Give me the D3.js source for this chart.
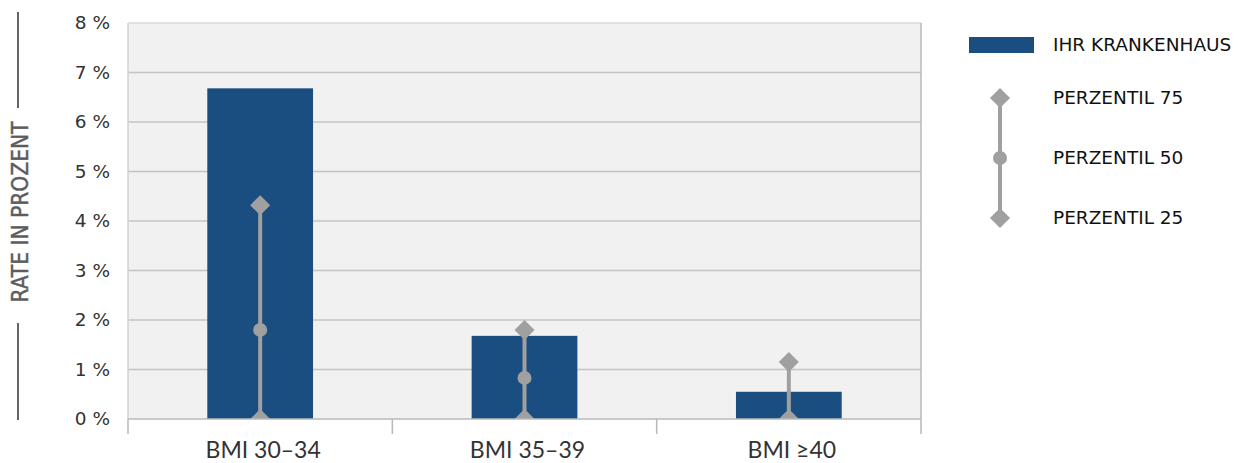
<!DOCTYPE html>
<html><head><meta charset="utf-8">
<script src="https://cdn.jsdelivr.net/npm/d3@7"></script>
<style>body{margin:0;background:#fff}
.dv{font-family:'DejaVu Sans',sans-serif}
.dvc{font-family:'DejaVu Sans Condensed','DejaVu Sans',sans-serif;font-stretch:condensed}
.lato{font-family:Lato,'Liberation Sans',sans-serif}
</style>
</head><body>
<svg id="c" width="1239" height="463"></svg>
<script>
const categories = ["BMI 30–34", "BMI 35–39", "BMI ≥40"];
const hospital = [6.68, 1.68, 0.55];
const p75 = [4.32, 1.80, 1.15];
const p50 = [1.80, 0.83, 0.0];
const p25 = [0.0, 0.0, 0.0];
const yTicks = [0, 1, 2, 3, 4, 5, 6, 7, 8];
const legendLabels = ["IHR KRANKENHAUS", "PERZENTIL 75", "PERZENTIL 50", "PERZENTIL 25"];

const svg = d3.select("#c");
const L = 128, R = 921, T = 23, B = 419;
const x = d3.scaleBand().domain(categories).range([L, R]).paddingInner(0).paddingOuter(0);
const y = d3.scaleLinear().domain([0, 8]).range([B, T]);
const barColor = "#1b4e80", markColor = "#a0a0a0";

svg.append("rect").attr("x", L).attr("y", T).attr("width", R - L).attr("height", B - T).attr("fill", "#f1f1f1");
svg.append("defs").append("clipPath").attr("id", "clip")
  .append("rect").attr("x", L).attr("y", 0).attr("width", R - L).attr("height", B);

// grid
svg.append("g").selectAll("line").data(yTicks.slice(1)).join("line")
  .attr("x1", L).attr("x2", R).attr("y1", d => y(d)).attr("y2", d => y(d))
  .attr("stroke", d => d === 8 ? "#d8d8d8" : "#c4c4c4").attr("stroke-width", 1.5);
// borders
svg.append("line").attr("x1", L).attr("x2", L).attr("y1", T).attr("y2", B).attr("stroke", "#d0d0d0").attr("stroke-width", 1.5);
svg.append("line").attr("x1", R).attr("x2", R).attr("y1", T).attr("y2", B).attr("stroke", "#b8b8b8").attr("stroke-width", 1.5);

// y tick labels
svg.append("g").selectAll("text").data(yTicks).join("text")
  .attr("class", "dv")
  .attr("x", 110).attr("y", d => y(d)).attr("dy", "0.35em").attr("text-anchor", "end")
  .attr("font-size", 18.5).attr("fill", "#333")
  .text(d => d + " %");

// bars
const bw = x.bandwidth() * 0.4;
svg.append("g").selectAll("rect").data(categories).join("rect")
  .attr("x", d => x(d) + x.bandwidth() / 2 - bw / 2)
  .attr("width", bw)
  .attr("y", (d, i) => y(hospital[i]))
  .attr("height", (d, i) => y(0) - y(hospital[i]))
  .attr("fill", barColor);

// percentile markers
const mg = svg.append("g").attr("clip-path", "url(#clip)");
const diamond = d3.symbol().type(d3.symbolSquare).size(200);
categories.forEach((c, i) => {
  const cx = x(c) + x.bandwidth() / 2;
  mg.append("line").attr("x1", cx).attr("x2", cx).attr("y1", y(p75[i])).attr("y2", y(p25[i]))
    .attr("stroke", markColor).attr("stroke-width", 4);
  mg.append("circle").attr("cx", cx).attr("cy", y(p50[i])).attr("r", 7).attr("fill", markColor);
  [p75[i], p25[i]].forEach(v => {
    mg.append("path").attr("d", diamond()).attr("transform", `translate(${cx},${y(v)}) rotate(45)`).attr("fill", markColor);
  });
});

// x axis
svg.append("line").attr("x1", L).attr("x2", R).attr("y1", B).attr("y2", B).attr("stroke", "#b8b8b8").attr("stroke-width", 1.5);
const xTicks = categories.map(c => x(c)).concat([R]);
svg.append("g").selectAll("line").data(xTicks).join("line")
  .attr("x1", d => d).attr("x2", d => d).attr("y1", B).attr("y2", 434)
  .attr("stroke", "#b8b8b8").attr("stroke-width", 1.5);
svg.append("g").selectAll("text").data(categories).join("text")
  .attr("class", "lato")
  .attr("x", d => x(d) + x.bandwidth() / 2 + 3).attr("y", 458).attr("text-anchor", "middle")
  .attr("font-size", 23).attr("fill", "#333")
  .text(d => d);

// y axis title
svg.append("line").attr("x1", 18).attr("x2", 18).attr("y1", 12).attr("y2", 108).attr("stroke", "#666").attr("stroke-width", 2);
svg.append("line").attr("x1", 18).attr("x2", 18).attr("y1", 323).attr("y2", 420).attr("stroke", "#666").attr("stroke-width", 2);
svg.append("text").attr("class", "dvc")
  .attr("transform", "translate(28,212) rotate(-90)").attr("text-anchor", "middle")
  .attr("font-size", 23).attr("fill", "#5c5c5c").attr("stroke", "#5c5c5c").attr("stroke-width", 0.4)
  .attr("textLength", 181).attr("lengthAdjust", "spacingAndGlyphs")
  .text("RATE IN PROZENT");

// legend
const lg = svg.append("g");
lg.append("rect").attr("x", 969).attr("y", 37).attr("width", 65).attr("height", 16).attr("fill", barColor);
lg.append("line").attr("x1", 1000).attr("x2", 1000).attr("y1", 98).attr("y2", 218).attr("stroke", markColor).attr("stroke-width", 4);
lg.append("path").attr("d", diamond()).attr("transform", "translate(1000,98) rotate(45)").attr("fill", markColor);
lg.append("circle").attr("cx", 1000).attr("cy", 158).attr("r", 7).attr("fill", markColor);
lg.append("path").attr("d", diamond()).attr("transform", "translate(1000,218) rotate(45)").attr("fill", markColor);
const ly = [45, 98, 158, 218];
lg.selectAll("text").data(legendLabels).join("text")
  .attr("class", "dv")
  .attr("x", 1053).attr("y", (d, i) => ly[i]).attr("dy", "0.35em")
  .attr("font-size", 18.5).attr("fill", "#111")
  .text(d => d);
</script>
</body></html>
